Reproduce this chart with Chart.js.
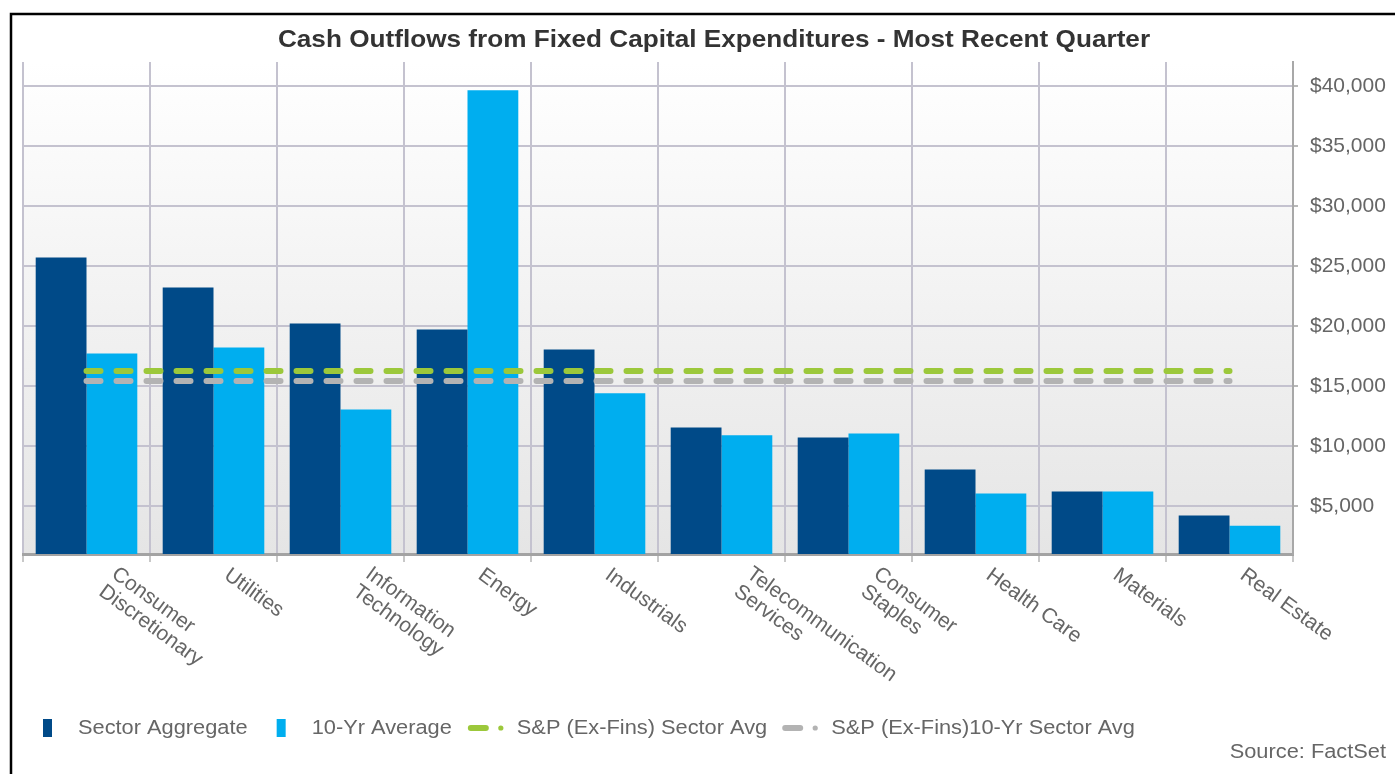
<!DOCTYPE html>
<html>
<head>
<meta charset="utf-8">
<script src="https://cdn.jsdelivr.net/npm/chart.js@4.4.1/dist/chart.umd.min.js"></script>
<style>
  html, body { margin: 0; padding: 0; background: #ffffff; }
  #wrap { position: relative; width: 1395px; height: 774px; }
  canvas { display: block; }
</style>
</head>
<body>
<div id="wrap"><canvas id="c" width="1395" height="774"></canvas></div>
<script>
// ---- Data ----
const categories = [
  ["Consumer", "Discretionary"],
  ["Utilities"],
  ["Information", "Technology"],
  ["Energy"],
  ["Industrials"],
  ["Telecommunication", "Services"],
  ["Consumer", "Staples"],
  ["Health Care"],
  ["Materials"],
  ["Real Estate"]
];
const sectorAggregate = [25700, 23200, 20200, 19700, 18050, 11550, 10700, 8050, 6200, 4200];
const tenYrAverage    = [17700, 18200, 13050, 39650, 14400, 10900, 11050, 6050, 6200, 3350];
const spSectorAvg     = [16250, 16250, 16250, 16250, 16250, 16250, 16250, 16250, 16250, 16250];
const sp10YrSectorAvg = [15420, 15420, 15420, 15420, 15420, 15420, 15420, 15420, 15420, 15420];
const yTicks = [5000, 10000, 15000, 20000, 25000, 30000, 35000, 40000];
const seriesNames = ["Sector Aggregate", "10-Yr Average", "S&P (Ex-Fins) Sector Avg", "S&P (Ex-Fins)10-Yr Sector Avg"];
const titleText = "Cash Outflows from Fixed Capital Expenditures - Most Recent Quarter";
const sourceText = "Source: FactSet";

// ---- Styles ----
const COL_DARK = "#004a88";
const COL_LIGHT = "#00aeef";
const COL_GREEN = "#9cc83b";
const COL_GRAY = "#b3b3b3";
const GRID = "#c4c2cf";
const FONT = "'Liberation Sans', Arial, sans-serif";
const STRETCH = 1.09;

function stretchedText(ctx, text, x, y, align) {
  // draws text with slight horizontal stretch, like the reference rendering
  const w = ctx.measureText(text).width * STRETCH;
  let sx = x;
  if (align === "center") sx = x - w / 2;
  else if (align === "right") sx = x - w;
  ctx.save();
  ctx.textAlign = "left";
  ctx.translate(sx, y);
  ctx.scale(STRETCH, 1);
  ctx.fillText(text, 0, 0);
  ctx.restore();
  return w;
}

const framePlugin = {
  id: "frame",
  beforeDraw(chart) {
    const ctx = chart.ctx;
    const a = chart.chartArea;
    ctx.save();
    ctx.fillStyle = "#ffffff";
    ctx.fillRect(0, 0, chart.width, chart.height);
    const g = ctx.createLinearGradient(0, a.top, 0, a.bottom);
    g.addColorStop(0, "#ffffff");
    g.addColorStop(1, "#e5e5e5");
    ctx.fillStyle = g;
    ctx.fillRect(a.left, a.top, a.right - a.left, a.bottom - a.top);
    ctx.strokeStyle = "#000000";
    ctx.lineWidth = 2.5;
    ctx.beginPath();
    ctx.moveTo(11, chart.height + 5);
    ctx.lineTo(11, 14);
    ctx.lineTo(chart.width + 5, 14);
    ctx.stroke();
    ctx.restore();
  },
  afterDraw(chart) {
    const ctx = chart.ctx;
    const a = chart.chartArea;
    const xs = chart.scales.x;
    ctx.save();
    // title
    ctx.fillStyle = "#333333";
    ctx.font = "bold 24px " + FONT;
    ctx.textBaseline = "middle";
    stretchedText(ctx, titleText, 714, 40, "center");
    // rotated category labels
    ctx.fillStyle = "#666666";
    ctx.font = "21px " + FONT;
    ctx.textAlign = "left";
    ctx.textBaseline = "middle";
    const ang = 36 * Math.PI / 180;
    const lh = 22;
    categories.forEach((lines, i) => {
      const cx = xs.getPixelForValue(i);
      ctx.save();
      ctx.translate(cx + 13, a.bottom + 19);
      ctx.rotate(ang);
      const n = lines.length;
      const along = n > 1 ? 11 : 0;
      const y0 = n > 1 ? -9.5 : 0;
      lines.forEach((t, j) => {
        ctx.fillText(t, along, y0 + j * lh);
      });
      ctx.restore();
    });
    // legend
    ctx.font = "20px " + FONT;
    ctx.textBaseline = "middle";
    const ly = 728;
    let x = 43;
    [[COL_DARK, seriesNames[0]], [COL_LIGHT, seriesNames[1]]].forEach(([c, t], k) => {
      ctx.fillStyle = c;
      ctx.fillRect(x, ly - 9, 9, 18);
      x += 35;
      ctx.fillStyle = "#666666";
      x += stretchedText(ctx, t, x, ly, "left");
      x += k === 0 ? 29 : 16;
    });
    [[COL_GREEN, seriesNames[2]], [COL_GRAY, seriesNames[3]]].forEach(([c, t]) => {
      ctx.strokeStyle = c;
      ctx.lineWidth = 6;
      ctx.lineCap = "round";
      ctx.beginPath();
      ctx.moveTo(x + 3, ly);
      ctx.lineTo(x + 18, ly);
      ctx.stroke();
      ctx.fillStyle = c;
      ctx.beginPath();
      ctx.arc(x + 33, ly, 2.6, 0, Math.PI * 2);
      ctx.fill();
      x += 49;
      ctx.fillStyle = "#666666";
      x += stretchedText(ctx, t, x, ly, "left");
      x += 15;
    });
    // source
    stretchedText(ctx, sourceText, 1386, 752, "right");
    ctx.restore();
  }
};

const ctx = document.getElementById("c").getContext("2d");
new Chart(ctx, {
  type: "bar",
  data: {
    labels: categories.map(l => l.join(" ")),
    datasets: [
      { type: "line", label: seriesNames[2], data: spSectorAvg, borderColor: COL_GREEN, borderWidth: 6,
        borderDash: [14, 16], borderCapStyle: "round", pointRadius: 0, fill: false, order: 0, yAxisID: "y" },
      { type: "line", label: seriesNames[3], data: sp10YrSectorAvg, borderColor: COL_GRAY, borderWidth: 6,
        borderDash: [14, 16], borderCapStyle: "round", pointRadius: 0, fill: false, order: 0, yAxisID: "y" },
      { label: seriesNames[0], data: sectorAggregate, backgroundColor: COL_DARK, borderWidth: 0,
        categoryPercentage: 0.8, barPercentage: 1.0, order: 1, yAxisID: "y" },
      { label: seriesNames[1], data: tenYrAverage, backgroundColor: COL_LIGHT, borderWidth: 0,
        categoryPercentage: 0.8, barPercentage: 1.0, order: 1, yAxisID: "y" }
    ]
  },
  options: {
    responsive: false,
    animation: false,
    devicePixelRatio: 1,
    layout: { padding: { left: 23, top: 62, right: 0, bottom: 0 } },
    plugins: {
      legend: { display: false },
      title: { display: false },
      tooltip: { enabled: false }
    },
    scales: {
      x: {
        offset: true,
        grid: { display: true, offset: true, color: GRID, lineWidth: 2, drawTicks: true, tickLength: 8, tickColor: "#c8c8c8" },
        border: { display: true, color: "#a3a3a3", width: 3 },
        ticks: { display: false },
        afterFit(s) { s.height = 220; }
      },
      y: {
        position: "right",
        min: 1000,
        max: 42000,
        afterBuildTicks(s) { s.ticks = yTicks.map(v => ({ value: v })); },
        grid: { color: GRID, lineWidth: 2, drawTicks: true, tickLength: 5, tickColor: "#b8b8b8" },
        border: { display: true, color: "#a8a8a8", width: 2 },
        ticks: {
          color: "#666666",
          padding: 12,
          font: { family: FONT, size: 21 },
          callback: v => "$" + Number(v).toLocaleString("en-US")
        },
        afterFit(s) { s.width = 102; }
      }
    }
  },
  plugins: [framePlugin]
});
</script>
</body>
</html>
